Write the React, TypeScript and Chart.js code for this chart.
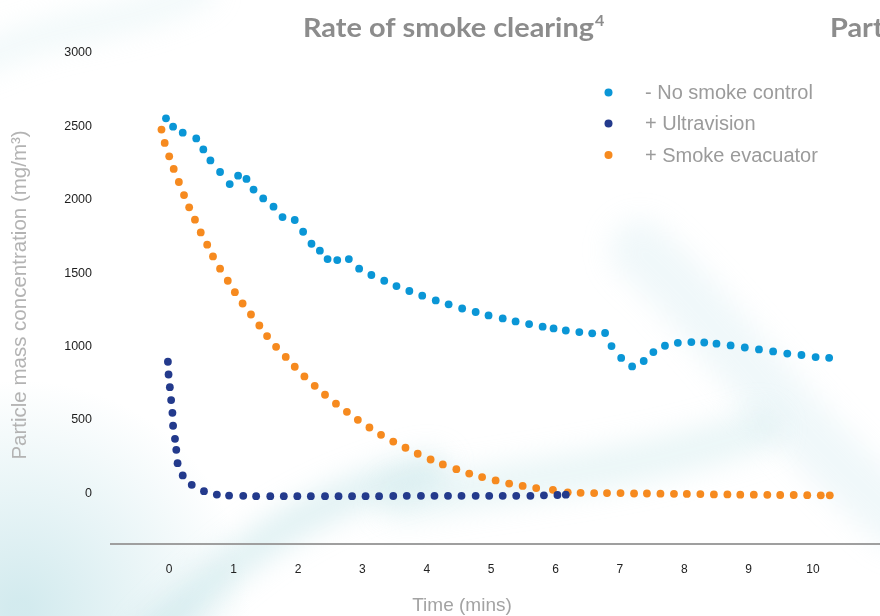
import React, { useEffect, useRef } from 'react';
import { Chart, registerables } from 'chart.js';

Chart.register(...registerables);

// ---- data ----
const seriesLabels = ['- No smoke control', '+ Ultravision', '+ Smoke evacuator'];
const seriesColors = ['#0a96d6', '#233a8c', '#f68a1f'];

const xTickValues = [0, 1, 2, 3, 4, 5, 6, 7, 8, 9, 10];
const yTickValues = [0, 500, 1000, 1500, 2000, 2500, 3000];

const noControlTimes = [
  -0.05, 0.06, 0.21, 0.42, 0.53, 0.64, 0.79, 0.94, 1.07, 1.2, 1.31, 1.46, 1.62, 1.76, 1.95, 2.08, 2.21,
  2.34, 2.46, 2.61, 2.79, 2.95, 3.14, 3.34, 3.53, 3.73, 3.93, 4.14, 4.34, 4.55, 4.76, 4.96, 5.18, 5.38,
  5.59, 5.8, 5.97, 6.16, 6.37, 6.57, 6.77, 6.87, 7.02, 7.19, 7.37, 7.52, 7.7, 7.9, 8.11, 8.31, 8.5, 8.72,
  8.94, 9.16, 9.38, 9.6, 9.82, 10.04, 10.25,
];
const noControlValues = [
  2555, 2498, 2457, 2418, 2343, 2268, 2189, 2107, 2164, 2142, 2069, 2009, 1953, 1882, 1862, 1782, 1700,
  1653, 1596, 1589, 1596, 1530, 1487, 1448, 1412, 1378, 1346, 1314, 1287, 1259, 1235, 1212, 1191, 1171,
  1153, 1135, 1123, 1109, 1098, 1090, 1092, 1003, 922, 864, 901, 962, 1005, 1025, 1030, 1027, 1019, 1007,
  993, 980, 966, 952, 942, 928, 923,
];

const ultravisionTimes = [
  -0.02, -0.01, 0.01, 0.03, 0.05, 0.06, 0.09, 0.11, 0.13, 0.21, 0.35, 0.54, 0.74, 0.93, 1.15, 1.35, 1.57,
  1.78, 1.99, 2.2, 2.42, 2.63, 2.84, 3.05, 3.26, 3.48, 3.69, 3.91, 4.12, 4.33, 4.54, 4.76, 4.97, 5.18,
  5.39, 5.61, 5.82, 6.03, 6.16,
];
const ultravisionValues = [
  896, 809, 723, 635, 548, 460, 371, 296, 205, 121, 57, 14, -9, -16, -18, -20, -20, -20, -20, -20, -20,
  -20, -20, -20, -20, -19, -18, -18, -18, -18, -18, -18, -18, -18, -18, -18, -14, -12, -10,
];

const evacuatorTimes = [
  -0.12, -0.07, 0.0, 0.07, 0.15, 0.23, 0.31, 0.4, 0.49, 0.59, 0.68, 0.79, 0.91, 1.02, 1.14, 1.27, 1.4,
  1.52, 1.66, 1.81, 1.95, 2.1, 2.26, 2.42, 2.59, 2.76, 2.93, 3.11, 3.29, 3.48, 3.67, 3.86, 4.06, 4.25,
  4.46, 4.66, 4.86, 5.07, 5.28, 5.49, 5.7, 5.96, 6.19, 6.39, 6.6, 6.8, 7.01, 7.22, 7.42, 7.63, 7.84, 8.04,
  8.25, 8.46, 8.67, 8.87, 9.08, 9.29, 9.49, 9.7, 9.91, 10.12, 10.26,
];
const evacuatorValues = [
  2478, 2387, 2296, 2210, 2121, 2032, 1948, 1864, 1777, 1694, 1614, 1530, 1448, 1370, 1293, 1218, 1143,
  1071, 998, 929, 862, 796, 732, 671, 610, 555, 500, 448, 398, 352, 310, 269, 230, 196, 164, 134, 110, 87,
  66, 50, 35, 23, 6, 3, 1, 1, 1, -2, -2, -3, -4, -5, -6, -8, -8, -10, -10, -11, -12, -12, -13, -14, -14,
];

const seriesTimes = [noControlTimes, ultravisionTimes, evacuatorTimes];
const seriesValues = [noControlValues, ultravisionValues, evacuatorValues];

const chartTitle = 'Rate of smoke clearing';
const chartTitleSup = '4';
const nextChartTitle = 'Part';
const xAxisTitle = 'Time (mins)';
const yAxisTitle = 'Particle mass concentration (mg/m³)';

const sans = "'Liberation Sans', Arial, Helvetica, sans-serif";
const titleFont = "Lato, 'Open Sans', sans-serif";

const backgroundPlugin = {
  id: 'swooshBackground',
  beforeDraw(chart: any) {
    const ctx = chart.ctx as CanvasRenderingContext2D;
    const w = chart.width;
    const h = chart.height;
    ctx.save();
    ctx.fillStyle = '#ffffff';
    ctx.fillRect(0, 0, w, h);

    const g = ctx.createRadialGradient(20, 610, 10, 20, 610, 230);
    g.addColorStop(0, 'rgba(175, 218, 225, 0.55)');
    g.addColorStop(1, 'rgba(175, 218, 225, 0)');
    ctx.fillStyle = g;
    ctx.fillRect(0, 380, 300, 236);

    ctx.filter = 'blur(14px)';
    ctx.lineCap = 'round';
    ctx.strokeStyle = 'rgba(165, 214, 222, 0.35)';
    ctx.lineWidth = 34;
    ctx.beginPath();
    ctx.moveTo(150, 640);
    ctx.bezierCurveTo(230, 560, 300, 500, 430, 470);
    ctx.stroke();

    ctx.strokeStyle = 'rgba(170, 218, 225, 0.25)';
    ctx.lineWidth = 40;
    ctx.beginPath();
    ctx.moveTo(400, 500);
    ctx.bezierCurveTo(520, 480, 640, 470, 760, 430);
    ctx.stroke();

    ctx.strokeStyle = 'rgba(185, 225, 230, 0.22)';
    ctx.lineWidth = 60;
    ctx.beginPath();
    ctx.moveTo(640, 250);
    ctx.bezierCurveTo(720, 320, 780, 420, 900, 520);
    ctx.stroke();

    ctx.strokeStyle = 'rgba(200, 230, 235, 0.25)';
    ctx.lineWidth = 30;
    ctx.beginPath();
    ctx.moveTo(-20, 60);
    ctx.bezierCurveTo(60, 20, 120, 30, 200, -10);
    ctx.stroke();
    ctx.restore();
  },
};

const textPlugin = {
  id: 'chartTexts',
  afterDraw(chart: any) {
    const ctx = chart.ctx as CanvasRenderingContext2D;
    ctx.save();
    // title (stretched horizontally to match the wide display face of the original)
    ctx.fillStyle = '#8c8c8c';
    ctx.textBaseline = 'alphabetic';
    ctx.textAlign = 'left';
    ctx.font = `bold 27px ${titleFont}`;
    const rawW = ctx.measureText(chartTitle).width;
    const sx = Math.min(1.25, Math.max(1, 291 / rawW));
    ctx.save();
    ctx.translate(303, 37);
    ctx.scale(sx, 1);
    ctx.fillText(chartTitle, 0, 0);
    ctx.font = `bold 15px ${titleFont}`;
    ctx.fillText(chartTitleSup, rawW + 1, -11);
    ctx.restore();
    ctx.save();
    ctx.translate(830, 37);
    ctx.scale(sx, 1);
    ctx.font = `bold 27px ${titleFont}`;
    ctx.fillText(nextChartTitle, 0, 0);
    ctx.restore();

    // legend
    const legendY = [92.5, 123.5, 155];
    seriesLabels.forEach((label, i) => {
      ctx.fillStyle = seriesColors[i];
      ctx.beginPath();
      ctx.arc(608.5, legendY[i], 4, 0, Math.PI * 2);
      ctx.fill();
      ctx.fillStyle = '#9b9b9b';
      ctx.font = `20px ${sans}`;
      ctx.textBaseline = 'middle';
      ctx.fillText(label, 645, legendY[i] + 1);
    });

    // x axis title
    ctx.fillStyle = '#a3a3a3';
    ctx.font = `19px ${sans}`;
    ctx.textAlign = 'center';
    ctx.textBaseline = 'alphabetic';
    ctx.fillText(xAxisTitle, 462, 611);

    // y axis title
    ctx.translate(26, 295);
    ctx.rotate(-Math.PI / 2);
    ctx.fillStyle = '#b3b3b3';
    ctx.font = `20.5px ${sans}`;
    ctx.fillText(yAxisTitle, 0, 0);
    ctx.restore();
  },
};

export default function App() {
  const canvasRef = useRef<HTMLCanvasElement | null>(null);

  useEffect(() => {
    const canvas = canvasRef.current;
    if (!canvas) return;
    const chart = new Chart(canvas, {
      type: 'scatter',
      data: {
        datasets: seriesLabels.map((label, i) => ({
          label,
          data: seriesTimes[i].map((t, j) => ({ x: t, y: seriesValues[i][j] })),
          backgroundColor: seriesColors[i],
          borderColor: seriesColors[i],
          borderWidth: 0,
          pointRadius: 3.9,
          pointHoverRadius: 3.9,
          showLine: false,
        })),
      },
      options: {
        animation: false,
        responsive: false,
        devicePixelRatio: 1,
        layout: { autoPadding: false, padding: { top: 53, left: 0, right: 0, bottom: 0 } },
        plugins: {
          legend: { display: false },
          title: { display: false },
          tooltip: { enabled: false },
        },
        scales: {
          x: {
            type: 'linear',
            min: -0.904,
            max: 11.04,
            grid: { display: false, drawTicks: false },
            border: { display: true, color: '#9f9f9f', width: 2 },
            afterBuildTicks: (scale: any) => {
              scale.ticks = xTickValues.map((v) => ({ value: v }));
            },
            afterFit: (scale: any) => {
              scale.height = 72;
            },
            ticks: {
              padding: 18,
              color: '#222222',
              font: { family: sans, size: 12 },
              maxRotation: 0,
              autoSkip: false,
              callback: (v: any) => String(v),
            },
          },
          y: {
            type: 'linear',
            min: -346,
            max: 3000,
            grid: { display: false, drawTicks: false },
            border: { display: false },
            afterBuildTicks: (scale: any) => {
              scale.ticks = yTickValues.map((v) => ({ value: v }));
            },
            afterFit: (scale: any) => {
              scale.width = 111;
            },
            ticks: {
              padding: 19,
              color: '#1e1e1e',
              font: { family: sans, size: 12.5 },
              callback: (v: any) => String(v),
            },
          },
        },
      },
      plugins: [backgroundPlugin, textPlugin],
    });
    return () => chart.destroy();
  }, []);

  return (
    <div style={{ position: 'fixed', left: 0, top: 0, width: 880, height: 616, background: '#fff' }}>
      <canvas ref={canvasRef} width={880} height={616} style={{ display: 'block', width: 880, height: 616 }} />
    </div>
  );
}
